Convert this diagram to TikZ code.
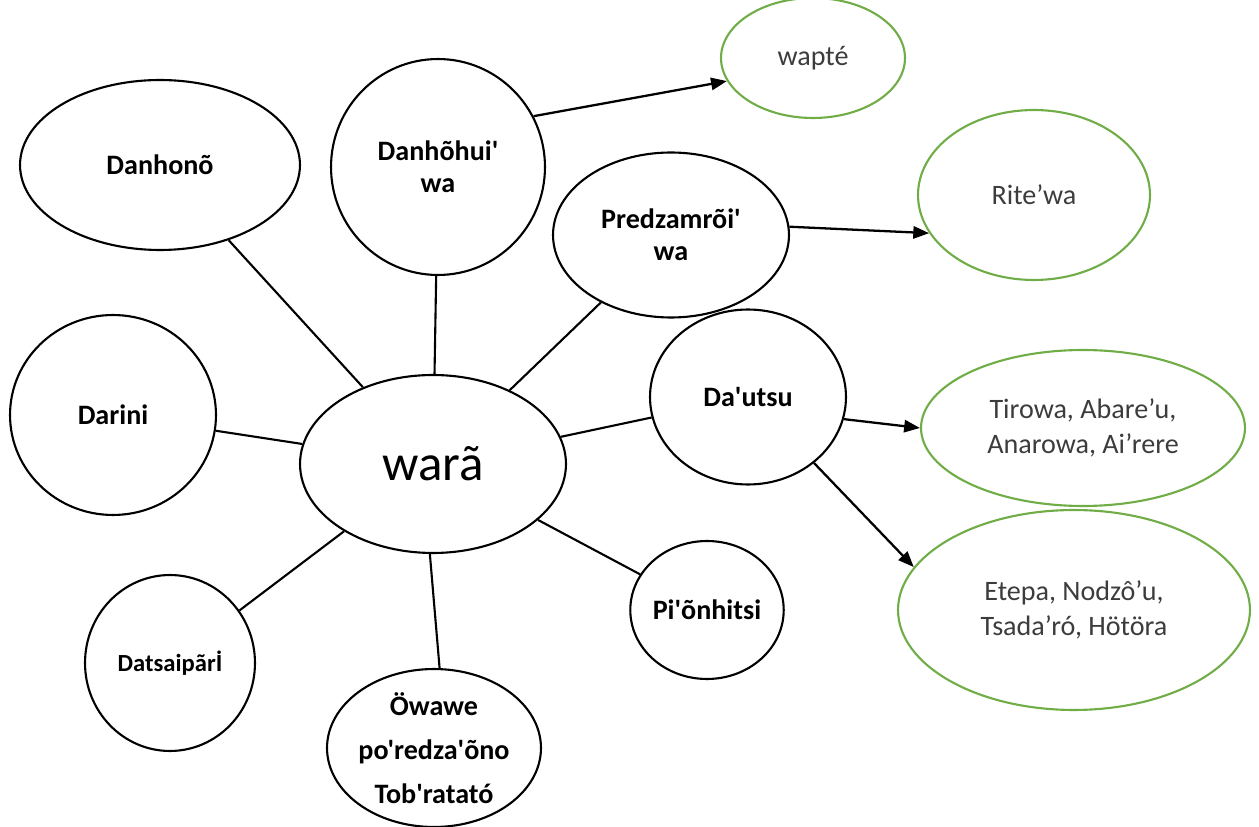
\documentclass[tikz,border=0pt]{standalone}
\usepackage{fontspec}
\setmainfont{Carlito}[Ligatures=TeXOff]
\usetikzlibrary{shapes.geometric,arrows.meta}
\definecolor{leafgreen}{RGB}{112,173,71}
\definecolor{leaftext}{RGB}{60,60,60}

\begin{document}
\begin{tikzpicture}[x=0.02cm,y=-0.02cm,
    bubble/.style={ellipse,draw,line width=1.2pt,inner sep=0pt,align=center,
      font=\bfseries\fontsize{16}{18}\selectfont},
    leaf/.style={ellipse,draw=leafgreen,line width=1.2pt,inner sep=0pt,align=center,
      text=leaftext,font=\fontsize{16}{20}\selectfont},
    spoke/.style={line width=1.2pt},
    link/.style={line width=1.3pt,-{Triangle[length=9pt,width=7pt]}}]
    \useasboundingbox (0,0) rectangle (1259,827);
    % centre
    \node[bubble,minimum width=5.32cm,minimum height=3.56cm,
      font=\fontsize{29}{34}\selectfont] (wara) at (433,464) {warã};
    % first ring
    \node[bubble,minimum width=5.6cm,minimum height=3.4cm] (danhono) at (160,165) {Danhonõ};
    \node[bubble,minimum width=4.28cm,minimum height=4.32cm] (danhohui) at (438,167) {Danhõhui'\\wa};
    \node[bubble,minimum width=4.72cm,minimum height=3.3cm] (predzamroi) at (671,235) {Predzamrõi'\\wa};
    \node[bubble,minimum width=3.92cm,minimum height=3.5cm] (dautsu) at (748,397) {Da'utsu};
    \node[bubble,minimum width=4.12cm,minimum height=4.0cm] (darini) at (113,415) {Darini};
    \node[bubble,minimum width=3.4cm,minimum height=3.52cm,
      font=\bfseries\fontsize{14}{16}\selectfont] (datsaipari) at (170,663) {Datsaipãrİ};
    \node[bubble,minimum width=4.28cm,minimum height=3.16cm,
      font=\bfseries\fontsize{16}{25}\selectfont] (owawe) at (434,748) {Öwawe\\po'redza'õno\\Tob'ratató};
    \node[bubble,minimum width=2.68cm,minimum height=2.76cm] (pionhitsi) at (707,610) {Pi'õnhitsi};
    % green leaves
    \node[leaf,minimum width=3.68cm,minimum height=2.4cm] (wapte) at (813,58) {wapté};
    \node[leaf,minimum width=4.64cm,minimum height=3.4cm] (ritewa) at (1034,195) {Rite’wa};
    \node[leaf,minimum width=6.48cm,minimum height=3.12cm] (tirowa) at (1083,428) {Tirowa, Abare’u,\\Anarowa, Ai’rere};
    \node[leaf,minimum width=7.04cm,minimum height=4.0cm] (etepa) at (1074,610) {Etepa, Nodzô’u,\\Tsada’ró, Hötöra};
    % spokes
    \draw[spoke] (wara) -- (danhono);
    \draw[spoke] (wara) -- (danhohui);
    \draw[spoke] (wara) -- (predzamroi);
    \draw[spoke] (wara) -- (dautsu);
    \draw[spoke] (wara) -- (darini);
    \draw[spoke] (wara) -- (datsaipari);
    \draw[spoke] (wara.268) -- (owawe.86);
    \draw[spoke] (wara) -- (pionhitsi);
    % arrows
    \draw[link] (danhohui.28) -- (wapte.195);
    \draw[link] (predzamroi.4) -- (ritewa.200);
    \draw[link] (dautsu.-13) -- (tirowa.west);
    \draw[link] (dautsu.-45) -- (etepa.165);
\end{tikzpicture}
\end{document}
